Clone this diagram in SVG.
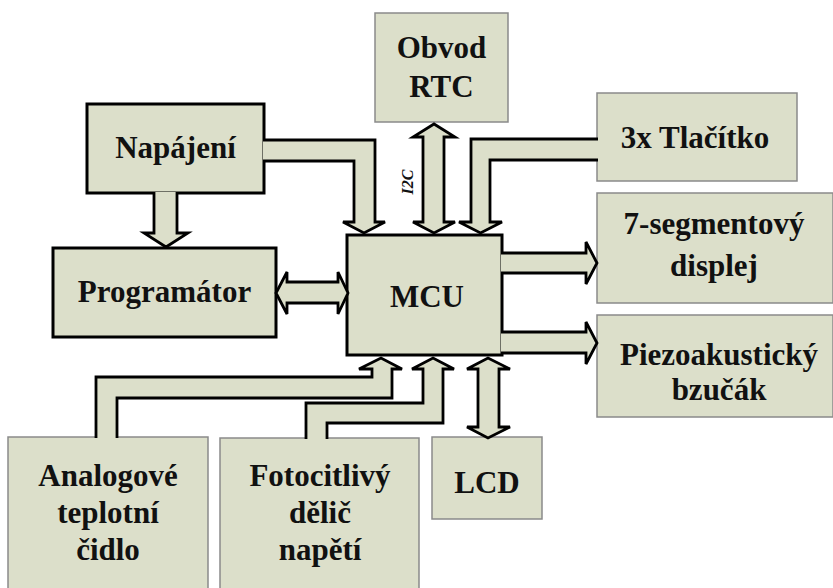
<svg xmlns="http://www.w3.org/2000/svg" width="833" height="588" viewBox="0 0 833 588">
<style>
.bx{fill:#dcdfca;stroke:#8a8a8a;stroke-width:1.5}
.bk{fill:#dcdfca;stroke:#000;stroke-width:3}
.ar{fill:#dcdfca;stroke:#000;stroke-width:2.8;stroke-linejoin:miter}
.t{font-family:'Liberation Serif','Times New Roman',serif;font-weight:bold;font-size:31px;fill:#111;text-anchor:middle}
.lab{font-family:'Liberation Serif','Times New Roman',serif;font-style:italic;font-weight:bold;font-size:16px;fill:#111;text-anchor:middle}
</style>
<rect width="833" height="588" fill="#fff"/>
<g id="rtc"><rect class="bx" x="375" y="13" width="133" height="109"/><text class="t" x="441.5" y="58">Obvod</text><text class="t" x="441.5" y="97">RTC</text></g>
<g id="napajeni"><rect class="bk" x="87" y="104" width="177" height="89"/><text class="t" x="175.5" y="158">Napájení</text></g>
<g id="tlacitko"><rect class="bx" x="597" y="93" width="200" height="88"/><text class="t" x="695" y="148">3x Tlačítko</text></g>
<g id="programator"><rect class="bk" x="53" y="248" width="223" height="89"/><text class="t" x="164.5" y="302">Programátor</text></g>
<g id="mcu"><rect class="bk" x="347" y="235" width="155" height="120"/><text class="t" x="427" y="307">MCU</text></g>
<g id="segment"><rect class="bx" x="597" y="193" width="236" height="110"/><text class="t" x="714" y="234">7-segmentový</text><text class="t" x="714" y="276">displej</text></g>
<g id="piezo"><rect class="bx" x="597" y="315" width="236" height="102"/><text class="t" x="719" y="365">Piezoakustický</text><text class="t" x="719" y="400">bzučák</text></g>
<g id="analog"><rect class="bx" x="8" y="437" width="200" height="160"/><text class="t" x="108" y="486">Analogové</text><text class="t" x="108" y="523">teplotní</text><text class="t" x="108" y="560">čidlo</text></g>
<g id="foto"><rect class="bx" x="220" y="438" width="199" height="160"/><text class="t" x="320" y="486">Fotocitlivý</text><text class="t" x="320" y="523">dělič</text><text class="t" x="320" y="560">napětí</text></g>
<g id="lcd"><rect class="bx" x="432" y="437" width="110" height="82"/><text class="t" x="487" y="493">LCD</text></g>
<g id="connectors">
<path class="ar" d="M154,192 L154,233 L144,233 L166,247 L188,233 L177,233 L177,192"/>
<path class="ar" d="M263,140 L375,140 L375,222 L385,222 L364,233 L343,222 L354,222 L354,161 L263,161"/>
<path class="ar" d="M423,137 L413,137 L434,124 L455,137 L444,137 L444,222 L455,222 L434,233 L413,222 L423,222 Z"/>
<path class="ar" d="M598,139 L471,139 L471,222 L459,222 L480.5,233 L502,222 L490,222 L490,160 L598,160"/>
<path class="ar" d="M287,282 L287,272 L276,293 L287,314 L287,303 L338,303 L338,314 L348,293 L338,272 L338,282 Z"/>
<path class="ar" d="M501,253 L586,253 L586,242 L597,263 L586,284 L586,273 L501,273"/>
<path class="ar" d="M501,332 L586,332 L586,322 L597,343 L586,364 L586,353 L501,353"/>
<path class="ar" d="M96,438 L96,377 L372,377 L372,369 L359,369 L381,358 L402,369 L392,369 L392,398 L117,398 L117,438"/>
<path class="ar" d="M306,439 L306,403 L423,403 L423,369 L412,369 L433,358 L454,369 L443,369 L443,423 L327,423 L327,439"/>
<path class="ar" d="M478,369 L467,369 L488,358 L510,369 L499,369 L499,427 L510,427 L488,438 L467,427 L478,427 Z"/>
<text class="lab" transform="translate(413,182) rotate(-90)">I2C</text>
</g>
</svg>
